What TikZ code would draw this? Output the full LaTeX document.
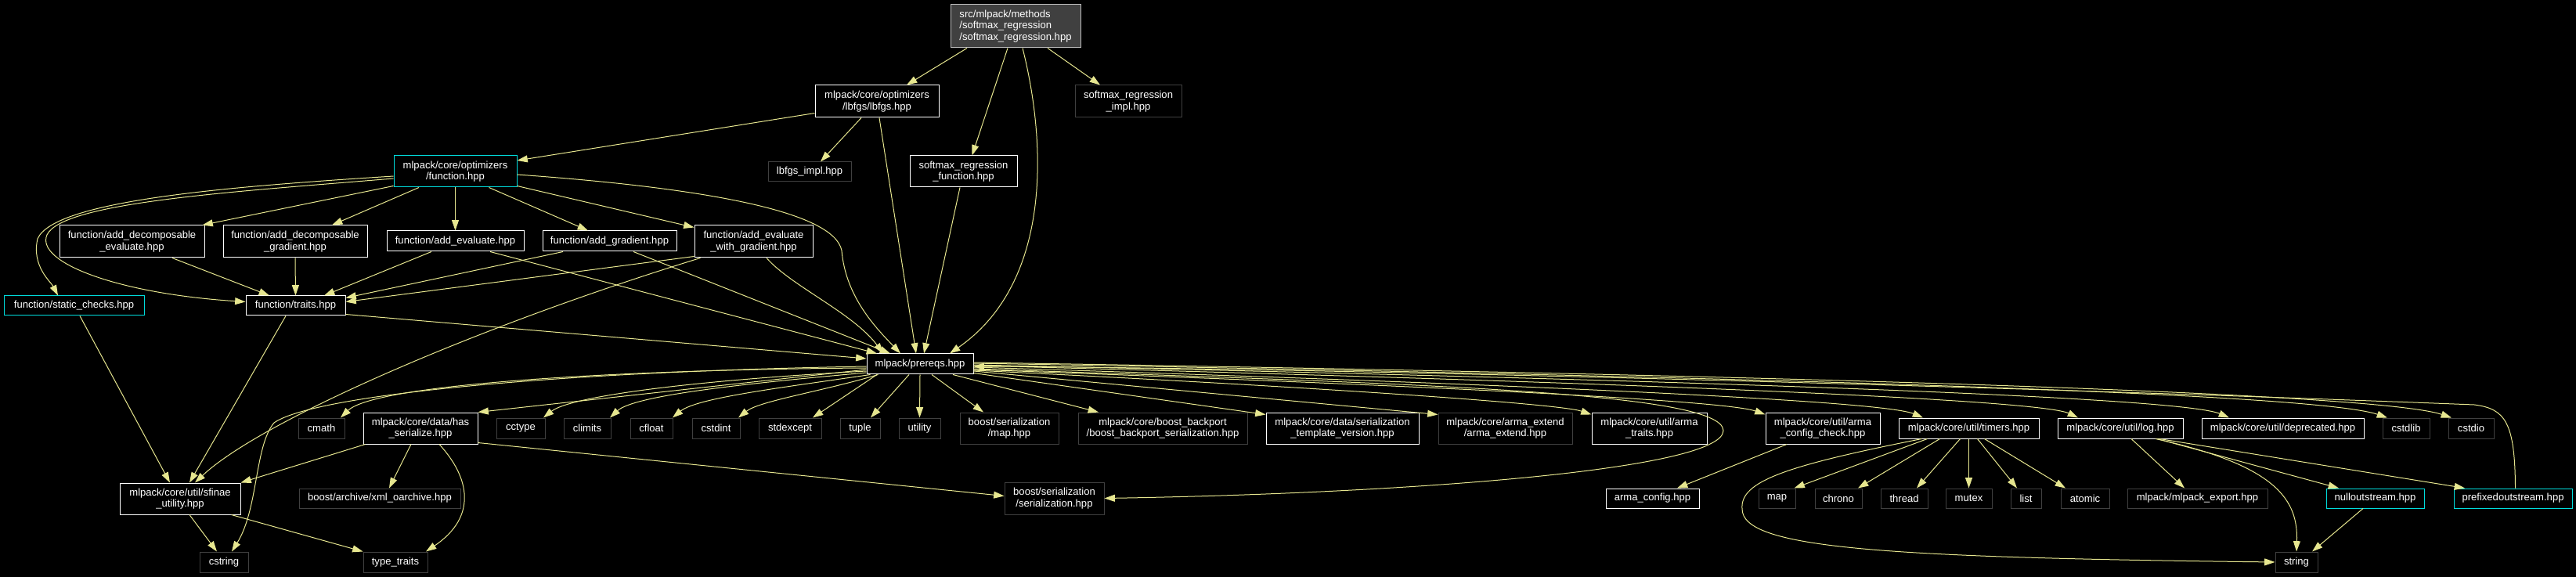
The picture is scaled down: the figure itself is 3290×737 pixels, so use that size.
\documentclass[tikz,border=0pt]{standalone}
\usepackage{fontspec}
\setmainfont{Liberation Sans}
\usetikzlibrary{arrows.meta,calc}
\definecolor{edgec}{RGB}{230,230,143}
\definecolor{extgray}{RGB}{64,64,64}
\definecolor{rootfill}{RGB}{64,64,64}
\definecolor{rootdraw}{RGB}{191,191,191}
\definecolor{cyanc}{RGB}{0,220,220}
\tikzset{
  box/.style={draw=white, fill=black, text=white, inner sep=0pt, line width=0.75pt, align=center, font=\fontsize{9.8}{11}\selectfont},
  ext/.style={box, draw=extgray},
  trunc/.style={box, draw=cyanc},
  rootbox/.style={box, fill=rootfill, draw=rootdraw, align=left},
  sz/.style 2 args={minimum width=#1*0.75pt, minimum height=#2*0.75pt},
  e/.style={draw=edgec, line width=0.75pt, -{Triangle[length=10pt,width=6.7pt]}}
}
\newcommand\mynode[6]{\node[#1,sz={#4}{#5}] (#2) at (#3) {#6};}
\begin{document}
\begin{tikzpicture}[x={(0.75pt,0)}, y={(0,-0.75pt)}]
\fill[black] (0,0) rectangle (3290,737);
\useasboundingbox (0,0) rectangle (3290,737);
% nodes
\mynode{rootbox}{root}{1297,33.5}{166}{55}{src/mlpack/methods\\/softmax\_regression\\/softmax\_regression.hpp}
\mynode{box}{lbfgs}{1120,129.5}{158}{41}{mlpack/core/optimizers\\/lbfgs/lbfgs.hpp}
\mynode{ext}{smrimpl}{1441,129.5}{136}{41}{softmax\_regression\\\_impl.hpp}
\mynode{ext}{lbfgsimpl}{1034,219.5}{106}{25}{lbfgs\_impl.hpp}
\mynode{trunc}{function}{581.5,219}{157}{40}{mlpack/core/optimizers\\/function.hpp}
\mynode{box}{smrfunc}{1230.5,219}{137}{40}{softmax\_regression\\\_function.hpp}
\mynode{box}{adde}{168.5,308.5}{185}{41}{function/add\_decomposable\\\_evaluate.hpp}
\mynode{box}{addg}{377,308.5}{184}{41}{function/add\_decomposable\\\_gradient.hpp}
\mynode{box}{adev}{581.5,308}{175}{26}{function/add\_evaluate.hpp}
\mynode{box}{adgr}{778.5,308}{171}{26}{function/add\_gradient.hpp}
\mynode{box}{aewg}{962.5,308.5}{151}{41}{function/add\_evaluate\\\_with\_gradient.hpp}
\mynode{trunc}{static}{94.5,390.5}{179}{25}{function/static\_checks.hpp}
\mynode{box}{traits}{377.5,390.5}{127}{25}{function/traits.hpp}
\mynode{box}{prereqs}{1175,465}{136}{26}{mlpack/prereqs.hpp}
\mynode{ext}{cmath}{410.5,547}{59}{26}{cmath}
\mynode{box}{hasser}{537,547}{146}{40}{mlpack/core/data/has\\\_serialize.hpp}
\mynode{ext}{cctype}{665,547}{62}{26}{cctype}
\mynode{ext}{climits}{750,547}{60}{26}{climits}
\mynode{ext}{cfloat}{832,547}{54}{26}{cfloat}
\mynode{ext}{cstdint}{914.5,547}{61}{26}{cstdint}
\mynode{ext}{stdexcept}{1009,547}{80}{26}{stdexcept}
\mynode{ext}{tuple}{1098.5,547}{51}{26}{tuple}
\mynode{ext}{utility}{1174.5,547}{53}{26}{utility}
\mynode{ext}{bmap}{1289,547}{126}{40}{boost/serialization\\/map.hpp}
\mynode{ext}{backport}{1485,547}{216}{40}{mlpack/core/boost\_backport\\/boost\_backport\_serialization.hpp}
\mynode{box}{stv}{1714.5,547}{195}{40}{mlpack/core/data/serialization\\\_template\_version.hpp}
\mynode{ext}{armaext}{1922.5,547}{171}{40}{mlpack/core/arma\_extend\\/arma\_extend.hpp}
\mynode{box}{armatr}{2106.5,547}{147}{40}{mlpack/core/util/arma\\\_traits.hpp}
\mynode{box}{armacc}{2328,547}{146}{40}{mlpack/core/util/arma\\\_config\_check.hpp}
\mynode{box}{timers}{2514.5,547}{179}{26}{mlpack/core/util/timers.hpp}
\mynode{box}{log}{2708,547}{160}{26}{mlpack/core/util/log.hpp}
\mynode{box}{deprec}{2915.5,547}{207}{26}{mlpack/core/util/deprecated.hpp}
\mynode{ext}{cstdlib}{3073,547}{60}{26}{cstdlib}
\mynode{ext}{cstdio}{3156,547}{58}{26}{cstdio}
\mynode{box}{sfinae}{230,637}{154}{40}{mlpack/core/util/sfinae\\\_utility.hpp}
\mynode{ext}{xmloa}{485,636.5}{206}{25}{boost/archive/xml\_oarchive.hpp}
\mynode{ext}{bser}{1346.5,636.5}{127}{41}{boost/serialization\\/serialization.hpp}
\mynode{box}{armacfg}{2110.5,636.5}{119}{25}{arma\_config.hpp}
\mynode{ext}{map}{2269.5,636.5}{47}{25}{map}
\mynode{ext}{chrono}{2348,636.5}{60}{25}{chrono}
\mynode{ext}{thread}{2432,636.5}{60}{25}{thread}
\mynode{ext}{mutex}{2514.5,636.5}{59}{25}{mutex}
\mynode{ext}{list}{2587.5,636.5}{39}{25}{list}
\mynode{ext}{atomic}{2663,636.5}{62}{25}{atomic}
\mynode{ext}{mlexport}{2806.5,636.5}{179}{25}{mlpack/mlpack\_export.hpp}
\mynode{trunc}{nullos}{3033.5,636.5}{125}{25}{nulloutstream.hpp}
\mynode{trunc}{prefos}{3209.5,636.5}{151}{25}{prefixedoutstream.hpp}
\mynode{ext}{cstring}{286,718}{62}{26}{cstring}
\mynode{ext}{typetr}{505,718}{82}{26}{type\_traits}
\mynode{ext}{string}{2933,718}{54}{26}{string}
% edges from root
\draw[e] ($(root.south)+(-62,0)$) -- ($(lbfgs.north)+(38,0)$);
\draw[e] ($(root.south)+(-10,0)$) -- ($(smrfunc.north)+(11,0)$);
\draw[e] ($(root.south)+(9,0)$) .. controls (1336,180) and (1345,360) .. ($(prereqs.north)+(38,0)$);
\draw[e] ($(root.south)+(41,0)$) -- ($(smrimpl.north)+(-36,0)$);
% lbfgs
\draw[e] ($(lbfgs.west)+(0,15)$) -- ($(function.east)+(0,-14)$);
\draw[e] ($(lbfgs.south)+(-20,0)$) -- ($(lbfgsimpl.north)+(14,0)$);
\draw[e] ($(lbfgs.south)+(3,0)$) -- ($(prereqs.north)+(-5,0)$);
\draw[e] ($(smrfunc.south)+(-4.5,0)$) -- ($(prereqs.north)+(5,0)$);
% function
\draw[e] ($(function.south west)+(0,-2)$) -- ($(adde.north east)+(-3,0)$);
\draw[e] ($(function.south)+(-46.5,0)$) -- ($(addg.north)+(47,0)$);
\draw[e] (function.south) -- (adev.north);
\draw[e] ($(function.south)+(43,0)$) -- ($(adgr.north)+(-27.5,0)$);
\draw[e] ($(function.south east)+(0,-2)$) -- ($(aewg.north west)+(0,3)$);
\draw[e] ($(function.west)+(0,6)$) .. controls (300,238) and (70,255) .. (48,305) .. controls (40,340) and (65,360) .. ($(static.north)+(-20.5,0)$);
\draw[e] ($(function.west)+(0,9)$) .. controls (300,245) and (80,258) .. (60,300) .. controls (45,335) and (150,375) .. ($(traits.west)+(0,-5)$);
\draw[e] ($(function.east)+(0,4)$) .. controls (900,240) and (1065,270) .. (1075,320) .. controls (1080,380) and (1120,420) .. ($(prereqs.north)+(-25,0)$);
% add_* to traits / prereqs
\draw[e] ($(adde.south)+(51.5,0)$) -- ($(traits.north)+(-33.5,0)$);
\draw[e] (addg.south) -- (traits.north);
\draw[e] ($(adev.south)+(-30.5,0)$) -- ($(traits.north)+(36.5,0)$);
\draw[e] ($(adgr.south)+(-59.5,0)$) -- ($(traits.north east)+(0,3)$);
\draw[e] ($(aewg.south west)+(0,-2)$) -- ($(traits.east)+(0,-5)$);
\draw[e] ($(adev.south)+(44.5,0)$) -- ($(prereqs.north)+(-55,0)$);
\draw[e] ($(adgr.south)+(30.5,0)$) -- ($(prereqs.north)+(-38,0)$);
\draw[e] ($(aewg.south)+(16.5,0)$) .. controls (1010,365) and (1090,400) .. ($(prereqs.north)+(-47,0)$);
\draw[e] ($(aewg.south west)+(8,0)$) .. controls (600,420) and (330,540) .. ($(sfinae.north)+(19,0)$);
\draw[e] ($(static.south)+(7.5,0)$) -- ($(sfinae.north)+(-13,0)$);
\draw[e] ($(traits.south)+(-12.5,0)$) -- ($(sfinae.north)+(12,0)$);
\draw[e] ($(traits.south east)+(0,-2)$) -- ($(prereqs.west)+(0,-7)$);
% prereqs fan left
\draw[e] ($(prereqs.west)+(0,3)$) .. controls (700,475) and (400,505) .. (350,540) .. controls (325,570) and (330,650) .. ($(cstring.north)+(10,0)$);
\draw[e] ($(prereqs.west)+(0,5)$) .. controls (800,472) and (480,490) .. ($(cmath.north)+(24.5,0)$);
\draw[e] ($(prereqs.west)+(0,7)$) -- (hasser.north east);
\draw[e] ($(prereqs.west)+(0,9)$) .. controls (900,485) and (730,505) .. ($(cctype.north)+(29,0)$);
\draw[e] ($(prereqs.west)+(0,11)$) .. controls (950,490) and (810,505) .. ($(climits.north)+(29,0)$);
\draw[e] ($(prereqs.south west)+(5,0)$) .. controls (1000,495) and (890,508) .. ($(cfloat.north)+(27,0)$);
\draw[e] ($(prereqs.south west)+(15,0)$) .. controls (1050,500) and (970,512) .. ($(cstdint.north)+(28.5,0)$);
\draw[e] ($(prereqs.south)+(-55,0)$) -- ($(stdexcept.north)+(29,0)$);
\draw[e] ($(prereqs.south)+(-14,0)$) -- ($(tuple.north)+(13.5,0)$);
\draw[e] (prereqs.south) -- (utility.north);
\draw[e] ($(prereqs.south)+(15,0)$) -- ($(bmap.north)+(-33,0)$);
\draw[e] ($(prereqs.south)+(42,0)$) -- ($(backport.north)+(-82,0)$);
% prereqs fan right
\draw[e] ($(prereqs.south east)+(0,-2)$) -- ($(stv.north west)+(0,3)$);
\draw[e] ($(prereqs.east)+(0,9)$) -- ($(armaext.north west)+(0,3)$);
\draw[e] ($(prereqs.east)+(0,8)$) .. controls (1640,492) and (1990,515) .. ($(armatr.north west)+(0,3)$);
\draw[e] ($(prereqs.east)+(0,7)$) .. controls (1750,490) and (2200,510) .. ($(armacc.north west)+(0,3)$);
\draw[e] ($(prereqs.east)+(0,6)$) .. controls (1800,490) and (2200,500) .. (2201,550) .. controls (2200,600) and (1800,630) .. (bser.east);
\draw[e] ($(prereqs.east)+(0,4)$) .. controls (1850,488) and (2400,510) .. ($(timers.north)+(-58.5,0)$);
\draw[e] ($(prereqs.east)+(0,2)$) .. controls (1950,485) and (2600,508) .. ($(log.north)+(-54,0)$);
\draw[e] ($(prereqs.east)+(0,1)$) .. controls (2050,483) and (2780,505) .. ($(deprec.north)+(-68.5,0)$);
\draw[e] ($(prereqs.east)+(0,-1)$) .. controls (2150,480) and (2950,500) .. ($(cstdlib.north)+(-24,0)$);
\draw[e] ($(prereqs.east)+(0,-2)$) .. controls (2200,478) and (3030,500) .. ($(cstdio.north)+(-25,0)$);
\draw[e] ($(prefos.north)+(3,0)$) .. controls (3212,540) and (3200,522) .. (3160,517) .. controls (2600,495) and (1700,470) .. ($(prereqs.east)+(0,3)$);
% has_serialize
\draw[e] ($(hasser.south west)+(3,0)$) -- (sfinae.north east);
\draw[e] ($(hasser.south)+(-12,0)$) -- ($(xmloa.north)+(12,0)$);
\draw[e] ($(hasser.south)+(24,0)$) .. controls (600,610) and (610,660) .. ($(typetr.north)+(39,0)$);
\draw[e] ($(hasser.south east)+(0,-2)$) -- ($(bser.west)+(0,-3)$);
% sfinae
\draw[e] ($(sfinae.south)+(12,0)$) -- ($(cstring.north)+(-9,0)$);
\draw[e] ($(sfinae.south east)+(-12,0)$) -- (typetr.north west);
% arma config
\draw[e] ($(armacc.south)+(-46,0)$) -- ($(armacfg.north)+(31.5,0)$);
% timers
\draw[e] ($(timers.south)+(-53,0)$) -- ($(map.north)+(22,0)$);
\draw[e] ($(timers.south)+(-37,0)$) -- ($(chrono.north)+(25,0)$);
\draw[e] ($(timers.south)+(-11,0)$) -- ($(thread.north)+(16,0)$);
\draw[e] (timers.south) -- (mutex.north);
\draw[e] ($(timers.south)+(11,0)$) -- ($(list.north)+(-11.5,0)$);
\draw[e] ($(timers.south)+(20,0)$) -- ($(atomic.north)+(-25,0)$);
\draw[e] ($(timers.south)+(-60,0)$) .. controls (2280,595) and (2222,615) .. (2225,650) .. controls (2225,700) and (2400,712) .. (string.west);
% log
\draw[e] ($(log.south)+(14,0)$) -- ($(mlexport.north)+(-16.5,0)$);
\draw[e] ($(log.south)+(45,0)$) .. controls (2910,595) and (2935,640) .. (string.north);
\draw[e] ($(log.south)+(47,0)$) -- ($(nullos.north)+(-46.5,0)$);
\draw[e] ($(log.south)+(50,0)$) -- ($(prefos.north)+(-61.5,0)$);
\draw[e] ($(nullos.south)+(-15.5,0)$) -- ($(string.north)+(20,0)$);
\end{tikzpicture}
\end{document}
